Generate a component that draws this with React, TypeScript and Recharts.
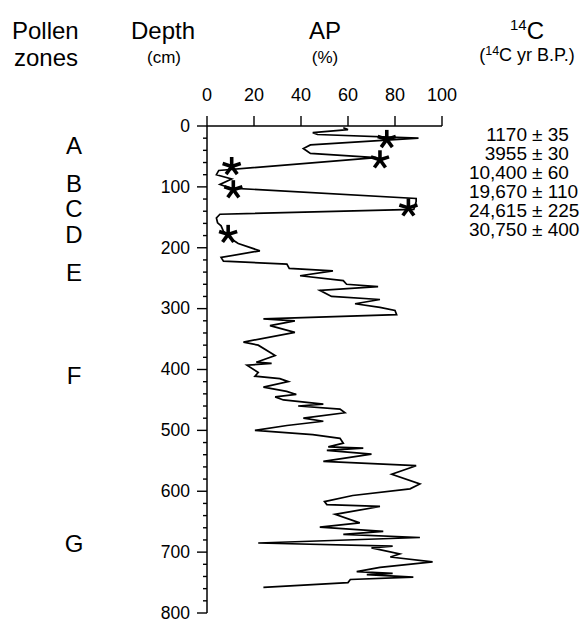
import React from 'react'
import { ScatterChart, Scatter, XAxis, YAxis } from 'recharts'

// AP curve, read top to bottom
const apValues = [
  58, 60, 45, 47, 90, 44, 41, 44, 72, 5, 4, 10.5, 5.5, 10, 89, 89, 88, 5.5, 4, 4.5,
  6, 7, 10.5, 13.3, 22.5, 6, 7, 34, 35, 53.6, 39.6, 58, 59.4, 72.8, 48, 53, 73.6, 63, 73.6, 80,
  80.7, 24, 37.4, 26.8, 37.4, 15.5, 21.8, 29, 21, 27.5, 17, 21.8, 20.4, 31, 34.6, 24, 33.9, 38, 29, 32.5,
  49.5, 38.8, 56.6, 58.7, 41, 49.5, 34, 20.4, 45, 56.6, 58, 51.6, 66.5, 51, 70, 49.5, 89, 78.6, 90.6, 86.4,
  62, 50, 51, 73.6, 54.5, 65, 48, 75, 58, 90.6, 21.8, 79, 70, 82, 78, 96, 73.6, 63.7, 79, 68,
  87.8, 61, 60, 24,
]
const depthValues = [
  3, 6, 11, 14, 20, 31, 37, 45, 52, 73, 80, 87, 96, 102, 119, 124, 137, 145, 151, 159,
  164, 173, 186, 193, 205, 216, 222, 227, 234, 238, 246, 254, 260, 264, 270, 280, 285, 292, 298, 303,
  310, 317, 320, 328, 339, 355, 360, 377, 388, 390, 393, 405, 411, 415, 420, 429, 436, 441, 445, 450,
  457, 460, 465, 471, 480, 485, 492, 500, 507, 513, 521, 527, 529, 533, 539, 551, 558, 572, 588, 596,
  607, 617, 622, 625, 638, 652, 659, 666, 671, 676, 685, 690, 693, 703, 708, 716, 725, 732, 735, 737,
  741, 745, 750, 758,
]

// dated levels
const starAp = [76.5, 73.6, 10.5, 11.2, 85.7, 9]
const starDepth = [22, 55.5, 66.5, 104.6, 134.5, 178]
const dateValues = ['1170', '3955', '10,400', '19,670', '24,615', '30,750']
const dateErrors = ['35', '30', '60', '110', '225', '400']

const apTicks = [0, 20, 40, 60, 80, 100]
const depthTicks = Array.from({ length: 41 }, (_, i) => i * 20)

const zoneNames = ['A', 'B', 'C', 'D', 'E', 'F', 'G']
const zoneDepths = [32, 94, 136, 178, 240, 410, 685]

const curve = apValues.map((ap, i) => ({ ap, depth: depthValues[i] }))
const stars = starAp.map((ap, i) => ({ ap, depth: starDepth[i] }))

const FONT = '"Liberation Sans", Arial, Helvetica, sans-serif'

const Asterisk = (props: any) => {
  const { cx, cy } = props
  const arms = [0, 1, 2, 3, 4].map((k) => {
    const a = ((-90 + k * 72) * Math.PI) / 180
    return (
      <line
        key={k}
        x1={cx}
        y1={cy}
        x2={cx + Math.cos(a) * 9.5}
        y2={cy + Math.sin(a) * 9.5}
        stroke="#000"
        strokeWidth={3.6}
      />
    )
  })
  return <g>{arms}</g>
}

const DepthTick = (props: any) => {
  const { x, y, payload } = props
  const major = payload.value % 100 === 0
  return (
    <g>
      <line x1={x - (major ? 10 : 4)} x2={x} y1={y} y2={y} stroke="#000" strokeWidth={1.4} />
      {major && (
        <text x={x - 17} y={y} dy="0.33em" textAnchor="end" fontSize={17.5} fontFamily={FONT} fill="#000">
          {payload.value}
        </text>
      )}
    </g>
  )
}

const ZoneTick = (props: any) => {
  const { x, y, index } = props
  return (
    <text x={x - 73} y={y} dy="0.36em" textAnchor="middle" fontSize={24} fontFamily={FONT} fill="#000">
      {zoneNames[index]}
    </text>
  )
}

export default function App() {
  return (
    <div style={{ position: 'absolute', left: 0, top: 0, width: 580, height: 623, background: '#fff' }}>
      <ScatterChart width={580} height={623} margin={{ top: 86, right: 138, bottom: 10, left: 60 }}>
        <XAxis
          type="number"
          dataKey="ap"
          orientation="top"
          domain={[0, 100]}
          ticks={apTicks}
          interval={0}
          height={40}
          tickSize={10}
          tickMargin={15}
          tick={{ fontSize: 18, fontFamily: FONT, fill: '#000' }}
          stroke="#000"
          axisLine={{ stroke: '#000', strokeWidth: 1.5 }}
          tickLine={{ stroke: '#000', strokeWidth: 1.4 }}
        />
        <YAxis
          type="number"
          dataKey="depth"
          domain={[0, 800]}
          reversed
          ticks={depthTicks}
          interval={0}
          width={60}
          tickSize={0}
          tickMargin={0}
          tickLine={false}
          tick={<DepthTick />}
          axisLine={{ stroke: '#000', strokeWidth: 1.5 }}
        />
        <YAxis
          yAxisId="zones"
          type="number"
          domain={[0, 800]}
          allowDataOverflow
          reversed
          ticks={zoneDepths}
          interval={0}
          width={87}
          tickSize={0}
          tickMargin={0}
          tickLine={false}
          axisLine={false}
          tick={<ZoneTick />}
        />
        <Scatter
          data={curve}
          fill="none"
          line={{ stroke: '#000', strokeWidth: 1.7, fill: 'none' }}
          shape={() => <g />}
          isAnimationActive={false}
        />
        <Scatter data={stars} shape={<Asterisk />} isAnimationActive={false} />
      </ScatterChart>
      <svg
        width={580}
        height={623}
        style={{ position: 'absolute', left: 0, top: 0, pointerEvents: 'none' }}
        fontFamily={FONT}
      >
        <text x={12} y={39} fontSize={24}>Pollen</text>
        <text x={14} y={66} fontSize={24}>zones</text>
        <text x={163} y={39} fontSize={24} textAnchor="middle">Depth</text>
        <text x={164} y={63} fontSize={17} textAnchor="middle">(cm)</text>
        <text x={325} y={39} fontSize={24} textAnchor="middle">AP</text>
        <text x={325} y={63} fontSize={17} textAnchor="middle">(%)</text>
        <text x={527} y={39} fontSize={24} textAnchor="middle">
          <tspan fontSize={15} dy={-9}>14</tspan>
          <tspan dy={9}>C</tspan>
        </text>
        <text x={527} y={61} fontSize={18} textAnchor="middle">
          (<tspan fontSize={12.5} dy={-6}>14</tspan>
          <tspan dy={6}>C yr B.P.)</tspan>
        </text>
        {dateValues.map((d, i) => (
          <g key={d}>
            <text x={527} y={141 + i * 19} fontSize={19} textAnchor="end">{d}</text>
            <text x={532} y={141 + i * 19} fontSize={19}>± {dateErrors[i]}</text>
          </g>
        ))}
      </svg>
    </div>
  )
}
